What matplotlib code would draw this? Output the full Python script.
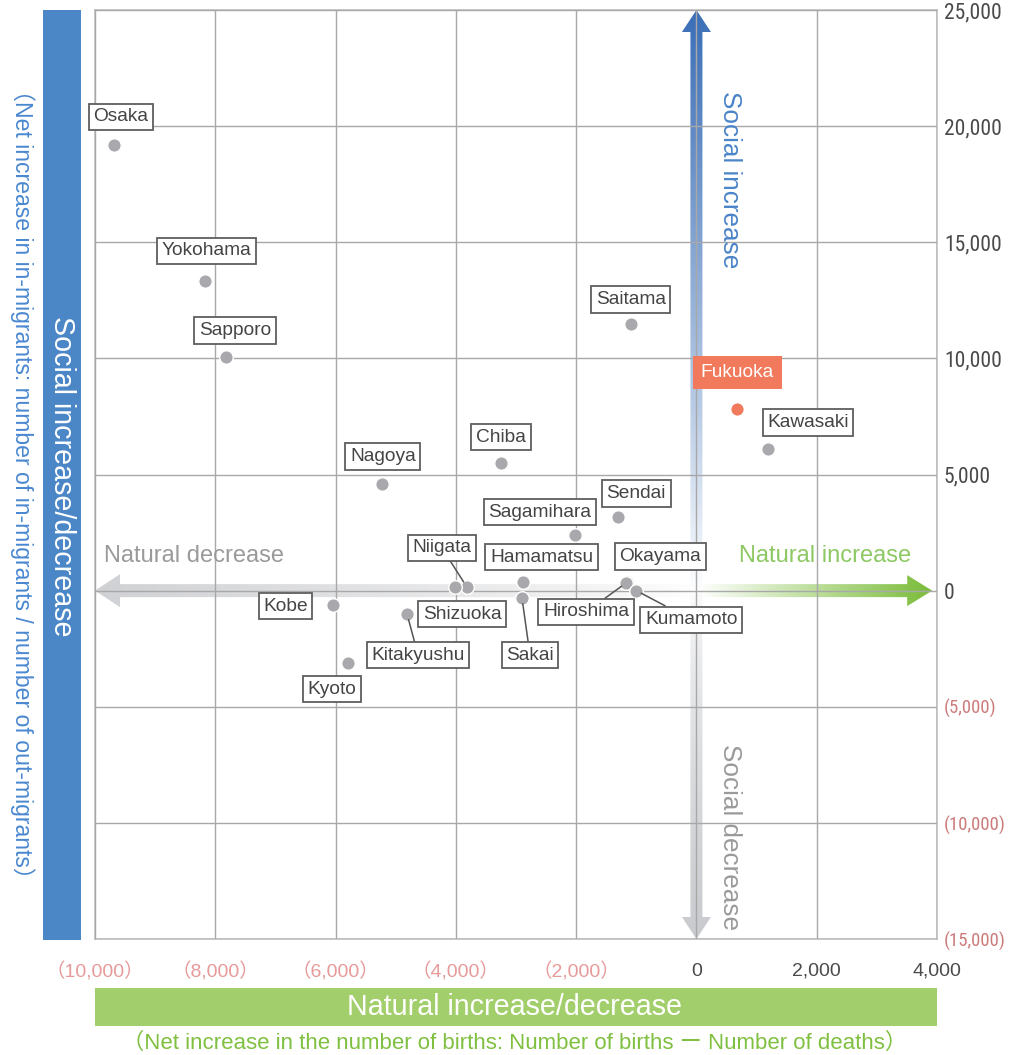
import matplotlib
matplotlib.use("Agg")
import matplotlib.pyplot as plt
import numpy as np
from matplotlib.patches import Polygon, Rectangle

plt.rcParams["font.family"] = ["Liberation Sans", "Noto Sans CJK JP", "DejaVu Sans"]

# natural change (x) and social change (y) per city
cities = ["Osaka", "Yokohama", "Sapporo", "Nagoya", "Chiba", "Saitama", "Sendai",
          "Sagamihara", "Kawasaki", "Okayama", "Hiroshima", "Kumamoto", "Niigata",
          "Hamamatsu", "Shizuoka", "Sakai", "Kitakyushu", "Kobe", "Kyoto", "Fukuoka"]
natural = [-9690, -8170, -7820, -5230, -3250, -1090, -1300,
           -2020, 1190, -1150, -1170, -1000, -3820,
           -2890, -4010, -2900, -4810, -6050, -5790, 680]
social = [19190, 13340, 10080, 4570, 5490, 11500, 3190,
          2380, 6080, 390, 330, 0, 170,
          370, 140, -330, -1020, -620, -3130, 7840]

x_ticks = [-10000, -8000, -6000, -4000, -2000, 0, 2000, 4000]
x_labels = ["（10,000）", "（8,000）", "（6,000）", "（4,000）", "（2,000）", "0", "2,000", "4,000"]
y_ticks = [-15000, -10000, -5000, 0, 5000, 10000, 15000, 20000, 25000]
y_labels = ["(15,000)", "(10,000)", "(5,000)", "0", "5,000", "10,000", "15,000", "20,000", "25,000"]

# label offsets from the dot, in pixels (dx, dy), and whether a leader line is drawn
label_offset = {
    "Osaka": (7, 28), "Yokohama": (1, 30), "Sapporo": (9, 26), "Nagoya": (1, 28),
    "Chiba": (0, 26), "Saitama": (0, 24), "Sendai": (18, 23), "Sagamihara": (-35, 23),
    "Kawasaki": (40, 27), "Okayama": (33, 25), "Hiroshima": (-40, -29),
    "Kumamoto": (55, -29), "Niigata": (-25, 39), "Hamamatsu": (19, 25),
    "Shizuoka": (7, -27), "Sakai": (8, -57), "Kitakyushu": (11, -41),
    "Kobe": (-47, -1), "Kyoto": (-16, -26), "Fukuoka": (0, 36),
}
leaders = {"Hiroshima", "Kumamoto", "Niigata", "Sakai", "Kitakyushu"}

fig = plt.figure(figsize=(10.2, 10.55), dpi=100)
ax = fig.add_axes([95 / 1020, 1 - 939 / 1055, 842 / 1020, 929 / 1055])

XMIN, XMAX, YMIN, YMAX = -10000, 4000, -15000, 25000
PX = (XMAX - XMIN) / 842  # data units per pixel
PY = (YMAX - YMIN) / 929


def gradient_arrow(verts, extent, rgb, alpha, horizontal):
    poly = Polygon(verts, closed=True, facecolor="none", edgecolor="none")
    ax.add_patch(poly)
    n = len(alpha)
    img = np.zeros((n, 1, 4)) if not horizontal else np.zeros((1, n, 4))
    img[..., 0], img[..., 1], img[..., 2] = [c / 255 for c in rgb]
    if horizontal:
        img[0, :, 3] = alpha
    else:
        img[:, 0, 3] = alpha
    im = ax.imshow(img, extent=extent, origin="lower", aspect="auto",
                   interpolation="bilinear", zorder=1)
    im.set_clip_path(poly)


ramp = np.linspace(0, 1, 256)

# social increase (up, blue)
sw, hw, hl = 6 * PX, 14.5 * PX, 22 * PY
top = YMAX
gradient_arrow([(-sw, 0), (sw, 0), (sw, top - hl), (hw, top - hl), (0, top),
                (-hw, top - hl), (-sw, top - hl)],
               (-hw, hw, 0, top), (58, 110, 183), ramp ** 0.9, False)

# social decrease (down, gray)
bot = YMIN
gradient_arrow([(-sw, 0), (sw, 0), (sw, bot + hl), (hw, bot + hl), (0, bot),
                (-hw, bot + hl), (-sw, bot + hl)],
               (-hw, hw, bot, 0), (200, 202, 206), (ramp ** 0.6)[::-1], False)

# natural increase (right, green)
sh, hh, hx = 6.5 * PY, 15.5 * PY, 25 * PX
tip = 3920
gradient_arrow([(0, -sh), (tip - hx, -sh), (tip - hx, -hh), (tip, 0), (tip - hx, hh),
                (tip - hx, sh), (0, sh)],
               (0, tip, -hh, hh), (122, 188, 56), ramp, True)

# natural decrease (left, gray)
tip = XMIN
gradient_arrow([(0, -sh), (tip + hx, -sh), (tip + hx, -hh - PY), (tip, 0),
                (tip + hx, hh + PY), (tip + hx, sh), (0, sh)],
               (tip, 0, -hh - PY, hh + PY), (208, 209, 212), (ramp ** 0.8)[::-1], True)

ax.set_xlim(XMIN, XMAX)
ax.set_ylim(YMIN, YMAX)
ax.set_xticks(x_ticks, x_labels)
ax.set_yticks(y_ticks, y_labels)
ax.yaxis.tick_right()
ax.tick_params(length=0)
ax.tick_params(axis="x", pad=17, labelsize=14)
ax.tick_params(axis="y", pad=5, labelsize=15.5)
ax.set_axisbelow(False)
ax.grid(True, color="#a8a8a8", linewidth=1)
for sp in ax.spines.values():
    sp.set_color("#bdbdbd")
    sp.set_linewidth(1.2)

narrow = ["Liberation Sans Narrow", "Roboto Condensed", "Liberation Sans"]
for lbl, v in zip(ax.get_xticklabels(), x_ticks):
    lbl.set_color("#e69a9a" if v < 0 else "#4a4a4a")
for lbl, v in zip(ax.get_yticklabels(), y_ticks):
    lbl.set_fontfamily(narrow)
    if v < 0:
        lbl.set_color("#cc7b7b")
        lbl.set_fontsize(13.5)
    else:
        lbl.set_color("#4a4a4a")

# points
grey = [c != "Fukuoka" for c in cities]
ax.scatter([x for x, g in zip(natural, grey) if g], [y for y, g in zip(social, grey) if g],
           s=95, color="#a9a9ad", edgecolor="white", linewidth=1, zorder=4)
fi = cities.index("Fukuoka")
ax.scatter([natural[fi]], [social[fi]], s=95, color="#f27a5c", edgecolor="white",
           linewidth=1, zorder=4)

for name, x, y in zip(cities, natural, social):
    dx, dy = label_offset[name]
    if name == "Fukuoka":
        box = dict(boxstyle="square,pad=0.42", facecolor="#f27a5c", edgecolor="none")
        color = "white"
    else:
        box = dict(boxstyle="square,pad=0.24", facecolor="white", edgecolor="#5e5e5e",
                   linewidth=1.3)
        color = "#444444"
    arrow = None
    if name in leaders:
        arrow = dict(arrowstyle="-", color="#555555", linewidth=1.1, shrinkA=0, shrinkB=4)
    ax.annotate(name, (x, y), xytext=(dx, dy), textcoords="offset pixels",
                ha="center", va="center", fontsize=13.8, color=color, bbox=box,
                arrowprops=arrow, zorder=6)

# quadrant captions
ax.text(560, 17700, "Social increase", rotation=-90, ha="center", va="center",
        fontsize=18.8, color="#4a84c8", zorder=3)
ax.text(560, -10600, "Social decrease", rotation=-90, ha="center", va="center",
        fontsize=18.8, color="#9a9a9a", zorder=3)
ax.text(-8350, 1500, "Natural decrease", ha="center", va="center",
        fontsize=17, color="#9a9a9a", zorder=3)
ax.text(2140, 1500, "Natural increase", ha="center", va="center",
        fontsize=17, color="#8dc863", zorder=3)

# axis title bars
fig.add_artist(Rectangle((43 / 1020, 1 - 940 / 1055), 38 / 1020, 930 / 1055,
                         transform=fig.transFigure, facecolor="#4b87c6", edgecolor="none"))
fig.text(62 / 1020, 1 - 476 / 1055, "Social increase/decrease", rotation=-90,
         ha="center", va="center", fontsize=20.6, color="white")
fig.text(22 / 1020, 1 - 484 / 1055,
         "（Net increase in in-migrants: number of in-migrants / number of out-migrants）",
         rotation=-90, ha="center", va="center", fontsize=16.6, color="#4a88d0")

fig.add_artist(Rectangle((95 / 1020, 1 - 1026 / 1055), 842 / 1020, 38 / 1055,
                         transform=fig.transFigure, facecolor="#a2cf6c", edgecolor="none"))
fig.text(515 / 1020, 1 - 1007 / 1055, "Natural increase/decrease", ha="center",
         va="center", fontsize=20.6, color="white")
fig.text(515 / 1020, 1 - 1043 / 1055,
         "（Net increase in the number of births: Number of births ー Number of deaths）",
         ha="center", va="center", fontsize=16, color="#80c040")

fig.savefig("out.png", dpi=100)
